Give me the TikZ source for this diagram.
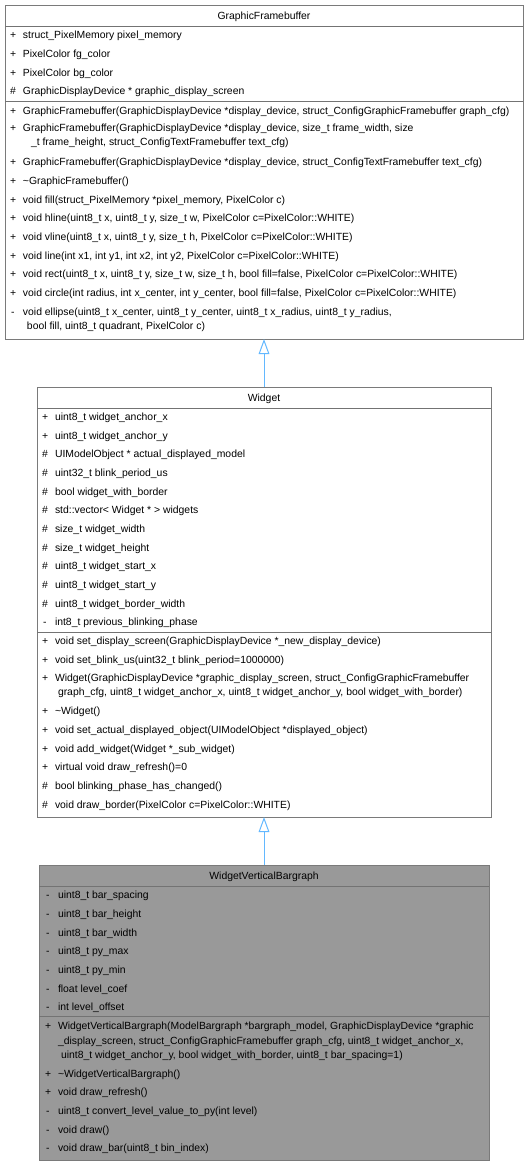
\documentclass[tikz,border=0pt]{standalone}
\usepackage{fontspec}
\setmainfont{Liberation Sans}
\usetikzlibrary{arrows.meta}
\definecolor{boxline}{HTML}{7A7A7A}
\definecolor{sepline}{HTML}{737373}
\definecolor{curfill}{HTML}{999999}
\definecolor{inhcol}{HTML}{63B8FF}
\newcommand\fsz{\fontsize{10.4}{12}\selectfont}
\newcommand\rowtxt[4]{\node[txt] (#1) at (#2,#3) {#4};}
\tikzset{
  txt/.style={anchor=base west, inner sep=0pt, outer sep=0pt, font=\fsz, yshift=-3.8pt},
  ttl/.style={anchor=base, inner sep=0pt, outer sep=0pt, font=\fsz, yshift=-3.8pt},
  classbox/.style={draw=boxline, line width=1pt, anchor=north west, inner sep=0pt, outer sep=0pt, rectangle},
  sepl/.style={draw=sepline, line width=1pt},
  inherit/.style={draw=inhcol, line width=1pt, -{Triangle[open, length=15pt, width=10.7pt, fill=white]}}
}
\begin{document}
\begin{tikzpicture}[x=1pt,y=-1pt]
\useasboundingbox (0,0) rectangle (529,1165);
% ---------- GraphicFramebuffer ----------
\node[classbox, fill=white, minimum width=518pt, minimum height=334pt] (gfb) at (5,5) {};
\node[ttl] (gfbt) at (264,16) {GraphicFramebuffer};
\draw[sepl] (5,26) -- (523,26);
\draw[sepl] (5,101) -- (523,101);
\rowtxt{g1m}{10}{35}{+}\rowtxt{g1}{23}{35}{struct\_PixelMemory pixel\_memory}
\rowtxt{g2m}{10}{53.7}{+}\rowtxt{g2}{23}{53.7}{PixelColor fg\_color}
\rowtxt{g3m}{10}{72.3}{+}\rowtxt{g3}{23}{72.3}{PixelColor bg\_color}
\rowtxt{g4m}{10}{91}{\#}\rowtxt{g4}{23}{91}{GraphicDisplayDevice * graphic\_display\_screen}
\rowtxt{g5m}{10}{110.3}{+}\rowtxt{g5}{23}{110.3}{GraphicFramebuffer(GraphicDisplayDevice *display\_device, struct\_ConfigGraphicFramebuffer graph\_cfg)}
\rowtxt{g6m}{10}{128}{+}\rowtxt{g6}{23}{128}{GraphicFramebuffer(GraphicDisplayDevice *display\_device, size\_t frame\_width, size}
\rowtxt{g6b}{31}{142}{\_t frame\_height, struct\_ConfigTextFramebuffer text\_cfg)}
\rowtxt{g7m}{10}{162}{+}\rowtxt{g7}{23}{162}{GraphicFramebuffer(GraphicDisplayDevice *display\_device, struct\_ConfigTextFramebuffer text\_cfg)}
\rowtxt{g8m}{10}{180.7}{+}\rowtxt{g8}{23}{180.7}{\textasciitilde GraphicFramebuffer()}
\rowtxt{g9m}{10}{199.3}{+}\rowtxt{g9}{23}{199.3}{void fill(struct\_PixelMemory *pixel\_memory, PixelColor c)}
\rowtxt{g10m}{10}{218}{+}\rowtxt{g10}{23}{218}{void hline(uint8\_t x, uint8\_t y, size\_t w, PixelColor c=PixelColor::WHITE)}
\rowtxt{g11m}{10}{236.7}{+}\rowtxt{g11}{23}{236.7}{void vline(uint8\_t x, uint8\_t y, size\_t h, PixelColor c=PixelColor::WHITE)}
\rowtxt{g12m}{10}{255.3}{+}\rowtxt{g12}{23}{255.3}{void line(int x1, int y1, int x2, int y2, PixelColor c=PixelColor::WHITE)}
\rowtxt{g13m}{10}{274}{+}\rowtxt{g13}{23}{274}{void rect(uint8\_t x, uint8\_t y, size\_t w, size\_t h, bool fill=false, PixelColor c=PixelColor::WHITE)}
\rowtxt{g14m}{10}{292.7}{+}\rowtxt{g14}{23}{292.7}{void circle(int radius, int x\_center, int y\_center, bool fill=false, PixelColor c=PixelColor::WHITE)}
\rowtxt{g15m}{11}{311.5}{-}\rowtxt{g15}{23}{311.5}{void ellipse(uint8\_t x\_center, uint8\_t y\_center, uint8\_t x\_radius, uint8\_t y\_radius,}
\rowtxt{g15b}{27}{325.5}{bool fill, uint8\_t quadrant, PixelColor c)}
% ---------- Widget ----------
\node[classbox, fill=white, minimum width=454pt, minimum height=430pt] (wid) at (37,387) {};
\node[ttl] (widt) at (264,397.5) {Widget};
\draw[sepl] (37,408) -- (491,408);
\draw[sepl] (37,632) -- (491,632);
\rowtxt{w1m}{42}{416.7}{+}\rowtxt{w1}{55}{416.7}{uint8\_t widget\_anchor\_x}
\rowtxt{w2m}{42}{435.3}{+}\rowtxt{w2}{55}{435.3}{uint8\_t widget\_anchor\_y}
\rowtxt{w3m}{42}{454}{\#}\rowtxt{w3}{55}{454}{UIModelObject * actual\_displayed\_model}
\rowtxt{w4m}{42}{472.7}{\#}\rowtxt{w4}{55}{472.7}{uint32\_t blink\_period\_us}
\rowtxt{w5m}{42}{491.3}{\#}\rowtxt{w5}{55}{491.3}{bool widget\_with\_border}
\rowtxt{w6m}{42}{510}{\#}\rowtxt{w6}{55}{510}{std::vector< Widget * > widgets}
\rowtxt{w7m}{42}{528.7}{\#}\rowtxt{w7}{55}{528.7}{size\_t widget\_width}
\rowtxt{w8m}{42}{547.3}{\#}\rowtxt{w8}{55}{547.3}{size\_t widget\_height}
\rowtxt{w9m}{42}{566}{\#}\rowtxt{w9}{55}{566}{uint8\_t widget\_start\_x}
\rowtxt{w10m}{42}{584.7}{\#}\rowtxt{w10}{55}{584.7}{uint8\_t widget\_start\_y}
\rowtxt{w11m}{42}{603.3}{\#}\rowtxt{w11}{55}{603.3}{uint8\_t widget\_border\_width}
\rowtxt{w12m}{43}{622}{-}\rowtxt{w12}{55}{622}{int8\_t previous\_blinking\_phase}
\rowtxt{w13m}{42}{641}{+}\rowtxt{w13}{55}{641}{void set\_display\_screen(GraphicDisplayDevice *\_new\_display\_device)}
\rowtxt{w14m}{42}{659.7}{+}\rowtxt{w14}{55}{659.7}{void set\_blink\_us(uint32\_t blink\_period=1000000)}
\rowtxt{w15m}{42}{678}{+}\rowtxt{w15}{55}{678}{Widget(GraphicDisplayDevice *graphic\_display\_screen, struct\_ConfigGraphicFramebuffer}
\rowtxt{w15b}{58}{692}{graph\_cfg, uint8\_t widget\_anchor\_x, uint8\_t widget\_anchor\_y, bool widget\_with\_border)}
\rowtxt{w16m}{42}{711}{+}\rowtxt{w16}{55}{711}{\textasciitilde Widget()}
\rowtxt{w17m}{42}{729.7}{+}\rowtxt{w17}{55}{729.7}{void set\_actual\_displayed\_object(UIModelObject *displayed\_object)}
\rowtxt{w18m}{42}{748.3}{+}\rowtxt{w18}{55}{748.3}{void add\_widget(Widget *\_sub\_widget)}
\rowtxt{w19m}{42}{767}{+}\rowtxt{w19}{55}{767}{virtual void draw\_refresh()=0}
\rowtxt{w20m}{42}{785.7}{\#}\rowtxt{w20}{55}{785.7}{bool blinking\_phase\_has\_changed()}
\rowtxt{w21m}{42}{804.3}{\#}\rowtxt{w21}{55}{804.3}{void draw\_border(PixelColor c=PixelColor::WHITE)}
% ---------- WidgetVerticalBargraph ----------
\node[classbox, fill=curfill, minimum width=450pt, minimum height=295pt] (wvb) at (39,865) {};
\node[ttl] (wvbt) at (264,876) {WidgetVerticalBargraph};
\draw[sepl] (39,886) -- (489,886);
\draw[sepl] (39,1016.7) -- (489,1016.7);
\rowtxt{b1m}{46}{895}{-}\rowtxt{b1}{58}{895}{uint8\_t bar\_spacing}
\rowtxt{b2m}{46}{913.7}{-}\rowtxt{b2}{58}{913.7}{uint8\_t bar\_height}
\rowtxt{b3m}{46}{932.3}{-}\rowtxt{b3}{58}{932.3}{uint8\_t bar\_width}
\rowtxt{b4m}{46}{951}{-}\rowtxt{b4}{58}{951}{uint8\_t py\_max}
\rowtxt{b5m}{46}{969.7}{-}\rowtxt{b5}{58}{969.7}{uint8\_t py\_min}
\rowtxt{b6m}{46}{988.3}{-}\rowtxt{b6}{58}{988.3}{float level\_coef}
\rowtxt{b7m}{46}{1007}{-}\rowtxt{b7}{58}{1007}{int level\_offset}
\rowtxt{b8m}{45}{1026}{+}\rowtxt{b8}{58}{1026}{WidgetVerticalBargraph(ModelBargraph *bargraph\_model, GraphicDisplayDevice *graphic}
\rowtxt{b8b}{58}{1040.3}{\_display\_screen, struct\_ConfigGraphicFramebuffer graph\_cfg, uint8\_t widget\_anchor\_x,}
\rowtxt{b8c}{61}{1054.7}{uint8\_t widget\_anchor\_y, bool widget\_with\_border, uint8\_t bar\_spacing=1)}
\rowtxt{b9m}{45}{1073.3}{+}\rowtxt{b9}{58}{1073.3}{\textasciitilde WidgetVerticalBargraph()}
\rowtxt{b10m}{45}{1092}{+}\rowtxt{b10}{58}{1092}{void draw\_refresh()}
\rowtxt{b11m}{46}{1110.7}{-}\rowtxt{b11}{58}{1110.7}{uint8\_t convert\_level\_value\_to\_py(int level)}
\rowtxt{b12m}{46}{1129.3}{-}\rowtxt{b12}{58}{1129.3}{void draw()}
\rowtxt{b13m}{46}{1148}{-}\rowtxt{b13}{58}{1148}{void draw\_bar(uint8\_t bin\_index)}
% ---------- inheritance ----------
\draw[inherit] (wid.north) -- (gfb.south);
\draw[inherit] (wvb.north) -- (wid.south);
\end{tikzpicture}
\end{document}
